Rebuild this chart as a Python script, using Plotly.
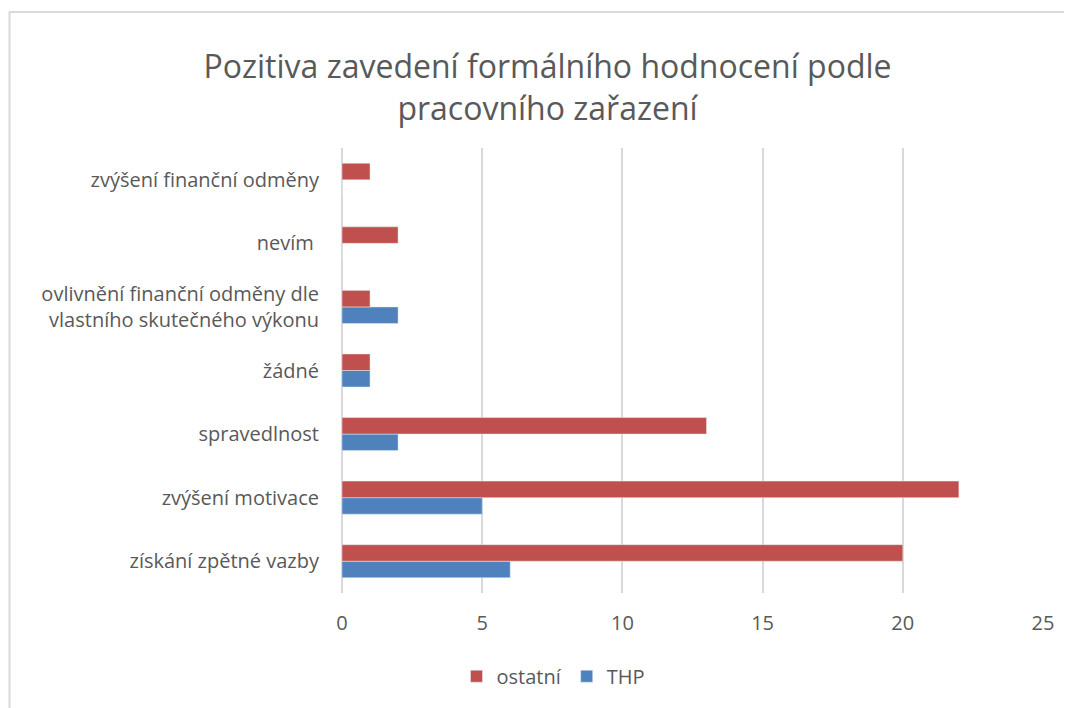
import plotly.graph_objects as go

CATEGORIES = [
    "získání zpětné vazby",
    "zvýšení motivace",
    "spravedlnost",
    "žádné",
    "ovlivnění finanční odměny dle<br>vlastního skutečného výkonu",
    "nevím ",
    "zvýšení finanční odměny",
]
THP = [6, 5, 2, 1, 2, 0, 0]
OSTATNI = [20, 22, 13, 1, 1, 2, 1]

FONT = "Open Sans"
GREY = "#595959"

fig = go.Figure()
fig.add_trace(go.Bar(y=CATEGORIES, x=THP, name="THP", orientation="h",
                     marker_color="#4f81bd"))
fig.add_trace(go.Bar(y=CATEGORIES, x=OSTATNI, name="ostatní", orientation="h",
                     marker_color="#c0504d"))

# the page body adds an 8px margin, so the figure is 8px smaller and shifted
W, H = 1064, 700
L, R, T, B = 334, 29, 140, 113
pw, ph = W - L - R, H - T - B


def px_x(X):
    return (X - L) / pw


def px_y(Y):
    return (H - B - Y) / ph


fig.update_layout(
    width=W, height=H,
    margin=dict(l=L, r=R, t=T, b=B),
    paper_bgcolor="white", plot_bgcolor="white",
    barmode="group", bargap=0.48, bargroupgap=0,
    font=dict(family=FONT, color=GREY, size=20),
    title=dict(
        text="Pozitiva zavedení formálního hodnocení podle<br>pracovního zařazení",
        x=539.5 / W, xanchor="center", y=1 - 70 / H, yanchor="middle",
        font=dict(size=32, color=GREY, family=FONT),
    ),
    legend=dict(orientation="h", x=px_x(545), xanchor="center", y=px_y(651), yanchor="top",
                traceorder="reversed", font=dict(size=20, color=GREY),
                itemwidth=30, tracegroupgap=0),
    showlegend=True,
    # outer chart border: only the top and left edges fall inside the picture
    shapes=[dict(type="rect", xref="paper", yref="paper",
                 x0=px_x(1.5), x1=px_x(1120), y0=px_y(760), y1=px_y(3.5),
                 line=dict(color="#d9d9d9", width=2), layer="below")],
)
fig.update_xaxes(range=[0, 25], dtick=5, showgrid=True, gridcolor="#d9d9d9", gridwidth=2,
                 zeroline=True, zerolinecolor="#d9d9d9", zerolinewidth=2,
                 showline=False, ticks="outside", ticklen=12, tickcolor="white",
                 tickfont=dict(size=20, color=GREY))
fig.update_yaxes(showgrid=False, zeroline=False, showline=False, ticks="outside",
                 ticklen=18, tickcolor="white", tickfont=dict(size=20, color=GREY),
                 categoryorder="array", categoryarray=CATEGORIES)

fig.write_html("out.html")
